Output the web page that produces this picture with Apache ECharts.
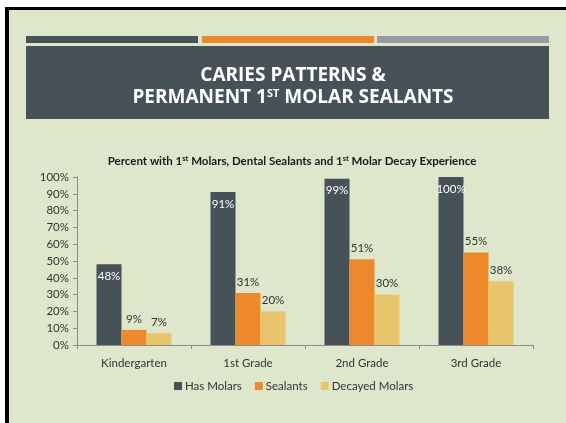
<!DOCTYPE html>
<html>
<head>
<meta charset="utf-8">
<script src="https://cdn.jsdelivr.net/npm/echarts@6/dist/echarts.min.js"></script>
<style>
  html, body { margin: 0; padding: 0; background: #ffffff; }
  #chart { width: 566px; height: 423px; }
</style>
</head>
<body>
<div id="chart"></div>
<script>
var grades = ["Kindergarten", "1st Grade", "2nd Grade", "3rd Grade"];
var hasMolars = [48, 91, 99, 100];
var sealants = [9, 31, 51, 55];
var decayedMolars = [7, 20, 30, 38];
var yTicks = [0, 10, 20, 30, 40, 50, 60, 70, 80, 90, 100];

var dark = "#465258";
var orange = "#ec8a2b";
var yellow = "#e8c46d";
var green = "#dee6cc";
var font = "Lato";

var myChart = echarts.init(document.getElementById("chart"));

function pct(p) {
  return p.value + "%";
}

var option = {
  animation: false,
  backgroundColor: "#ffffff",
  textStyle: { fontFamily: font },
  graphic: [
    // slide frame and background
    { type: "rect", shape: { x: 5, y: 7, width: 570, height: 430 }, style: { fill: "#000000" } },
    { type: "rect", shape: { x: 9, y: 10, width: 570, height: 430 }, style: { fill: green } },
    // three accent bars
    { type: "rect", shape: { x: 26, y: 36, width: 172, height: 7 }, style: { fill: dark } },
    { type: "rect", shape: { x: 202, y: 36, width: 172, height: 7 }, style: { fill: orange } },
    { type: "rect", shape: { x: 377, y: 36, width: 172, height: 7 }, style: { fill: "#959ca5" } },
    // title box
    { type: "rect", shape: { x: 26, y: 46, width: 523, height: 73 }, style: { fill: dark } }
  ],
  title: [
    {
      text: "CARIES PATTERNS &\nPERMANENT 1{sup|ST} MOLAR SEALANTS",
      left: 288,
      top: 60,
      textAlign: "center",
      textStyle: {
        color: "#ffffff",
        fontFamily: "Open Sans",
        fontWeight: "bold",
        fontSize: 19,
        lineHeight: 22,
        rich: {
          sup: { color: "#ffffff", fontFamily: "Open Sans", fontWeight: "bold", fontSize: 11, padding: [0, 0, 8, 0] }
        }
      }
    },
    {
      text: "Percent with 1{sup|st} Molars, Dental Sealants and 1{sup|st} Molar Decay Experience",
      left: 287,
      top: 150,
      textAlign: "center",
      textStyle: {
        color: "#1a1a1a",
        fontFamily: font,
        fontWeight: "bold",
        fontSize: 11.5,
        rich: {
          sup: { color: "#1a1a1a", fontFamily: font, fontWeight: "bold", fontSize: 7.5, padding: [0, 0, 5, 0] }
        }
      }
    }
  ],
  legend: {
    top: 375,
    left: 169,
    itemWidth: 8,
    itemHeight: 8,
    itemGap: 13,
    icon: "rect",
    textStyle: { color: "#333333", fontSize: 11.5, fontFamily: font, padding: [0, 0, 0, -2] },
    data: ["Has Molars", "Sealants", "Decayed Molars"]
  },
  grid: { left: 77, right: 33, top: 177, bottom: 78 },
  xAxis: {
    type: "category",
    data: grades,
    axisLine: { lineStyle: { color: "#8a8a8a" } },
    axisTick: { show: true, length: 4, lineStyle: { color: "#8a8a8a" } },
    axisLabel: { color: "#333333", fontSize: 11.5, margin: 12, fontFamily: font }
  },
  yAxis: {
    type: "value",
    min: yTicks[0],
    max: yTicks[yTicks.length - 1],
    interval: 10,
    axisLine: { show: true, lineStyle: { color: "#8a8a8a" } },
    axisTick: { show: true, length: 4, lineStyle: { color: "#8a8a8a" } },
    splitLine: { show: false },
    axisLabel: { color: "#333333", fontSize: 11.5, margin: 8, fontFamily: font, formatter: "{value}%" }
  },
  series: [
    {
      name: "Has Molars",
      type: "bar",
      data: hasMolars,
      barWidth: 25,
      barGap: "0%",
      itemStyle: { color: dark },
      label: { show: true, position: "insideTop", distance: 6, color: "#ffffff", fontSize: 11.5, fontFamily: font, formatter: pct }
    },
    {
      name: "Sealants",
      type: "bar",
      data: sealants,
      barWidth: 25,
      barGap: "0%",
      itemStyle: { color: orange },
      label: { show: true, position: "top", distance: 5, color: "#333333", fontSize: 11.5, fontFamily: font, formatter: pct }
    },
    {
      name: "Decayed Molars",
      type: "bar",
      data: decayedMolars,
      barWidth: 25,
      barGap: "0%",
      itemStyle: { color: yellow },
      label: { show: true, position: "top", distance: 5, color: "#333333", fontSize: 11.5, fontFamily: font, formatter: pct }
    }
  ]
};

option && myChart.setOption(option);
</script>
</body>
</html>
